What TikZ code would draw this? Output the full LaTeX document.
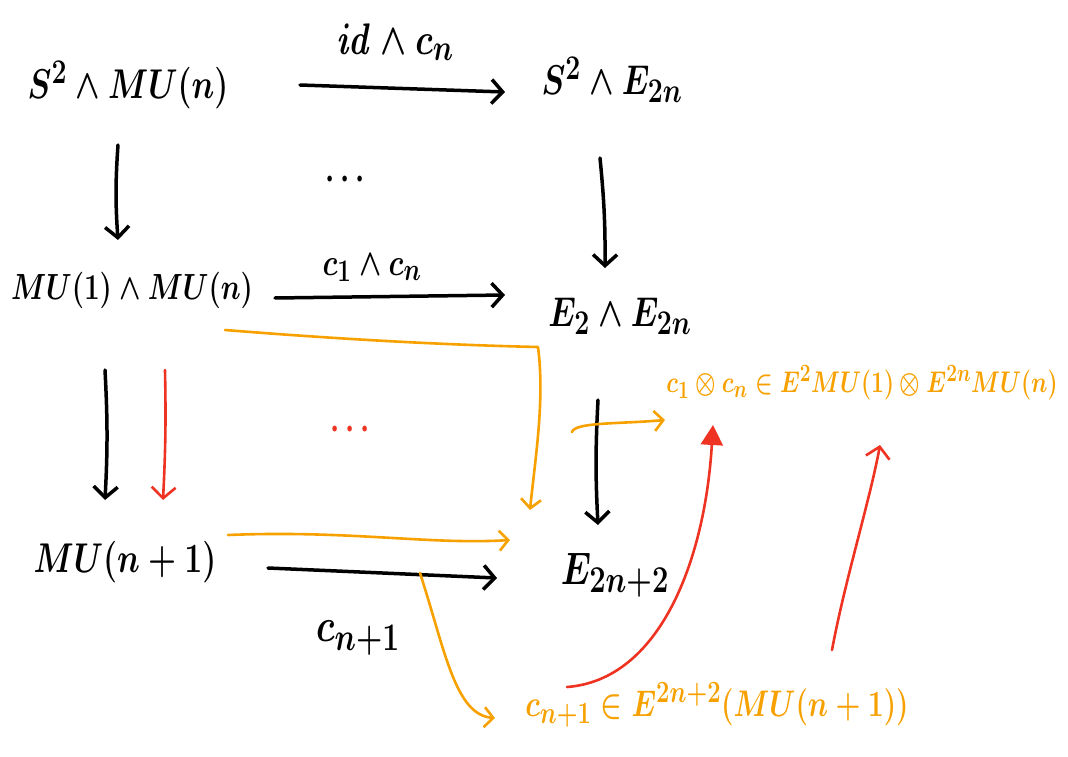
\documentclass[tikz,border=0pt]{standalone}
\usetikzlibrary{arrows.meta}
\definecolor{ora}{HTML}{F7A100}
\definecolor{redd}{HTML}{EE3322}
\begin{document}
\begin{tikzpicture}[x=1pt,y=-1pt,
  base/.style={inner sep=0pt,font=\Huge\boldmath,yscale=1.3},
  obj/.style={base,scale=1.286},
  objs/.style={base,scale=1.125},
  objl/.style={base,scale=1.407},
  lab/.style={base,scale=1.367},
  labs/.style={base,scale=1.166},
  biglab/.style={base,scale=1.447},
  gtext/.style={base,text=ora,scale=0.924},
  htext/.style={base,text=ora,scale=1.145},
  blk/.style={line width=3.5pt,line cap=round,line join=round},
  org/.style={line width=2.6pt,draw=ora,line cap=round,line join=round},
  rd/.style={line width=2.6pt,draw=redd,line cap=round,line join=round},
  barb/.style={-{Straight Barb[length=11pt,width=24pt]}},
  obarb/.style={-{Straight Barb[length=9pt,width=20pt]}},
  tri/.style={-{Triangle[length=20pt,width=22pt]}},
]
\useasboundingbox (0,0) rectangle (1068,757);
% objects
\node[obj] (A) at (128,85) {$S^2\wedge MU(n)$};
\node[obj] (B) at (612,80) {$S^2\wedge E_{2n}$};
\node[objs] (C) at (132,290) {$MU(1)\wedge MU(n)$};
\node[obj] (D) at (620,316) {$E_2\wedge E_{2n}$};
\node[obj] (E) at (125,562) {$MU(n+1)$};
\node[objl] (F) at (615,575) {$E_{2n+2}$};
\node[gtext] (G) at (862,383) {$c_1\otimes c_n\in E^2MU(1)\otimes E^{2n}MU(n)$};
\node[htext] (H) at (717,705) {$c_{n+1}\in E^{2n+2}(MU(n+1))$};
% labels
\node[lab] (l1) at (395,42) {$\mathit{id}\wedge c_n$};
\node[labs] (l2) at (372,268) {$c_1\wedge c_n$};
\node[biglab] (l3) at (358,638) {$c_{n+1}$};
\node[labs] (d1) at (345,180) {$\cdots$};
\node[labs,text=redd] (d2) at (350,430) {$\cdots$};
% black arrows
\draw[blk,barb] ([shift={(172,0)}]A.center) -- ([shift={(-107,12)}]B.center);
\draw[blk,barb] ([shift={(-10,60)}]A.center) to[bend right=4] ([shift={(-14,-50)}]C.center);
\draw[blk,barb] ([shift={(-12,78)}]B.center) to[bend left=3] ([shift={(-15,-48)}]D.center);
\draw[blk,barb] ([shift={(143,8)}]C.center) -- ([shift={(-115,-21)}]D.center);
\draw[blk,barb] ([shift={(-27,80)}]C.center) to[bend left=3] ([shift={(-20,-62)}]E.center);
\draw[blk,barb] ([shift={(-22,84)}]D.center) to[bend right=3] ([shift={(-17,-50)}]F.center);
\draw[blk,barb] ([shift={(143,6)}]E.center) -- ([shift={(-118,3)}]F.center);
% red arrows
\draw[rd,barb] ([shift={(33,80)}]C.center) to[bend left=2] ([shift={(38,-62)}]E.center);
\draw[rd,tri] ([shift={(-150,-18)}]H.center) .. controls (660,680) and (705,560) .. ([shift={(-149,42)}]G.center);
\draw[rd,barb] ([shift={(115,-55)}]H.center) .. controls (845,580) and (870,500) .. ([shift={(18,62)}]G.center);
% orange arrows
\coordinate (o1) at (538,347);
\coordinate (k) at (420,573);
\draw[org,obarb] ([shift={(93,40)}]C.center) .. controls (350,340) and (450,345) .. (o1)
   .. controls (545,400) and (535,460) .. ([shift={(-85,-65)}]F.center);
\draw[org,obarb] ([shift={(103,-27)}]E.center) .. controls (350,530) and (430,545) .. ([shift={(-105,-35)}]F.center);
\draw[org,obarb] ([shift={(-48,116)}]D.center) .. controls (575,422) and (620,424) .. ([shift={(-197,37)}]G.center);
\draw[org,obarb] (k) .. controls (445,650) and (455,715) .. ([shift={(-222,13)}]H.center);
\end{tikzpicture}
\end{document}
